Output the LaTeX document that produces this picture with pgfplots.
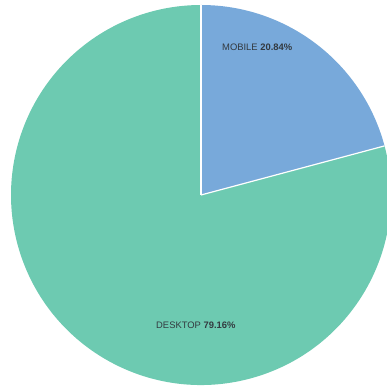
\documentclass[border=0pt]{standalone}
\usepackage{pgfplots}
\usepackage{pgfplotstable}
\pgfplotsset{compat=1.18}
\usepackage{fontspec}
\setmainfont{Liberation Sans}
\definecolor{mob}{HTML}{78A9DA}
\definecolor{desk}{HTML}{6DCAB1}
\definecolor{lbl}{HTML}{333A40}
\pgfplotstableread{
name value
MOBILE 20.84
DESKTOP 79.16
}\pietable
\begin{document}
\begin{tikzpicture}
\pgfplotstablegetelem{0}{value}\of\pietable \let\vA\pgfplotsretval
\pgfplotstablegetelem{1}{value}\of\pietable \let\vB\pgfplotsretval
\pgfmathsetmacro{\aStart}{90}
\pgfmathsetmacro{\aMid}{90-3.6*\vA}
\pgfmathsetmacro{\aEnd}{\aMid-3.6*\vB}
\begin{axis}[
  scale only axis, width=387pt, height=388pt,
  xmin=-201, xmax=186, ymin=-193, ymax=195,
  axis lines=none, clip=true,
]
\fill[mob] (axis cs:0,0) -- (axis cs:{190*cos(\aStart)},{190*sin(\aStart)})
  arc[start angle=\aStart, end angle=\aMid, radius=190pt] -- cycle;
\fill[desk] (axis cs:0,0) -- (axis cs:{190*cos(\aMid)},{190*sin(\aMid)})
  arc[start angle=\aMid, end angle=\aEnd, radius=190pt] -- cycle;
\draw[white, line width=1.2pt] (axis cs:0,0) -- (axis cs:0,190);
\draw[white, line width=1.2pt] (axis cs:0,0) -- (axis cs:{190*cos(\aMid)},{190*sin(\aMid)});
\node[font=\fontsize{9.4}{11}\selectfont, text=lbl, anchor=west, inner sep=0pt] at (axis cs:21,148) {MOBILE \textbf{\vA\%}};
\node[font=\fontsize{9.4}{11}\selectfont, text=lbl, anchor=west, inner sep=0pt] at (axis cs:-45,-130) {DESKTOP \textbf{\vB\%}};
\end{axis}
\pgfresetboundingbox
\path (current axis.south west) rectangle (current axis.north east);
\end{tikzpicture}
\end{document}
